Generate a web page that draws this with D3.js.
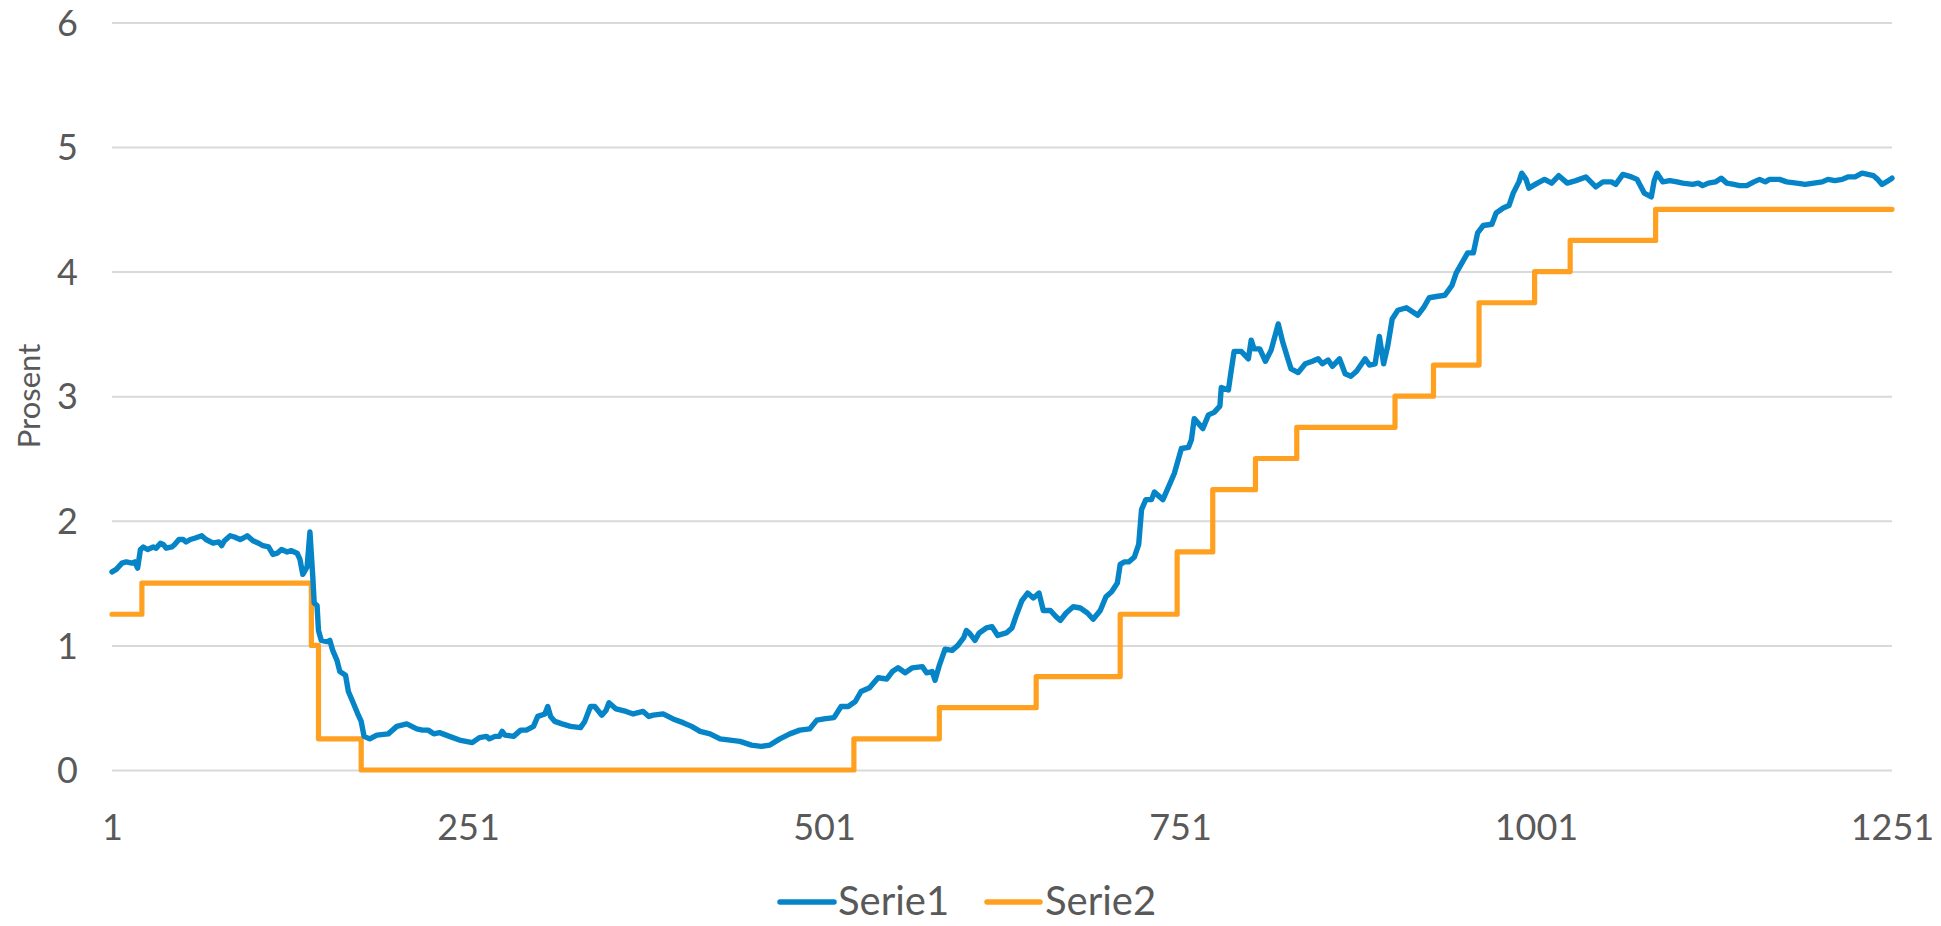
<!DOCTYPE html>
<html>
<head>
<meta charset="utf-8">
<script src="https://cdn.jsdelivr.net/npm/d3@7"></script>
<style>
  html, body { margin: 0; padding: 0; background: #ffffff; }
  svg { display: block; }
  text { font-family: Lato, "Open Sans", sans-serif; fill: #595959; }
</style>
</head>
<body>
<svg id="chart" width="1941" height="926"></svg>
<script>
// ---- data ----
const xTickLabels = [1, 251, 501, 751, 1001, 1251];
const yTickLabels = [0, 1, 2, 3, 4, 5, 6];
const seriesNames = ["Serie1", "Serie2"];
const seriesColors = ["#0585C8", "#FFA020"];
const yAxisTitle = "Prosent";

// Serie1: [observation number, value]
const serie1 = [
  [1,1.59],[4,1.61],[8,1.66],[11,1.67],[15,1.66],[17,1.67],[19,1.62],[21,1.77],[23,1.79],[26,1.77],
  [30,1.79],[32,1.78],[35,1.82],[37,1.81],[39,1.78],[43,1.79],[45,1.81],[48,1.85],[51,1.85],[53,1.83],
  [56,1.85],[59,1.86],[64,1.88],[67,1.85],[72,1.82],[76,1.83],[78,1.80],[80,1.84],[84,1.88],[87,1.87],
  [91,1.85],[93,1.86],[96,1.88],[100,1.84],[104,1.82],[107,1.80],[111,1.79],[114,1.73],[117,1.74],[120,1.77],
  [124,1.75],[127,1.76],[131,1.74],[133,1.69],[135,1.57],[136,1.59],[138,1.63],[140,1.91],[142,1.55],[143,1.34],
  [145,1.32],[146,1.12],[148,1.04],[152,1.03],[154,1.04],[156,0.96],[159,0.88],[161,0.79],[165,0.76],[167,0.63],
  [170,0.55],[174,0.44],[176,0.39],[178,0.27],[182,0.25],[187,0.28],[195,0.29],[201,0.35],[208,0.37],[215,0.33],
  [219,0.32],[223,0.32],[227,0.29],[231,0.30],[238,0.27],[245,0.24],[254,0.22],[259,0.26],[264,0.27],[266,0.25],
  [270,0.27],[273,0.27],[275,0.31],[277,0.28],[283,0.27],[288,0.32],[292,0.32],[297,0.35],[300,0.43],[305,0.45],
  [307,0.51],[309,0.43],[312,0.39],[317,0.37],[323,0.35],[330,0.34],[333,0.39],[337,0.51],[340,0.51],[345,0.44],
  [348,0.48],[350,0.54],[355,0.49],[362,0.47],[367,0.45],[374,0.47],[378,0.43],[381,0.44],[388,0.45],[395,0.41],
  [402,0.38],[408,0.35],[414,0.31],[421,0.29],[428,0.25],[435,0.24],[442,0.23],[450,0.20],[457,0.19],[463,0.20],
  [470,0.25],[477,0.29],[484,0.32],[491,0.33],[496,0.40],[501,0.41],[508,0.42],[513,0.51],[518,0.51],[523,0.55],
  [527,0.63],[533,0.66],[539,0.74],[545,0.73],[549,0.79],[553,0.82],[558,0.78],[563,0.82],[570,0.83],[573,0.78],
  [577,0.79],[579,0.72],[582,0.84],[586,0.97],[591,0.96],[595,1.00],[599,1.06],[601,1.12],[603,1.10],[607,1.04],
  [610,1.10],[615,1.14],[619,1.15],[623,1.08],[629,1.10],[633,1.14],[636,1.24],[640,1.36],[644,1.42],[648,1.38],
  [652,1.42],[655,1.28],[660,1.28],[664,1.23],[667,1.20],[671,1.26],[676,1.31],[681,1.30],[686,1.26],[690,1.21],
  [695,1.28],[699,1.39],[703,1.43],[707,1.50],[709,1.65],[712,1.67],[715,1.67],[719,1.71],[722,1.81],[724,2.09],
  [727,2.17],[731,2.17],[733,2.23],[739,2.17],[744,2.30],[747,2.38],[752,2.58],[757,2.59],[759,2.65],[761,2.82],
  [767,2.74],[771,2.85],[775,2.87],[779,2.92],[780,3.07],[785,3.05],[787,3.21],[789,3.36],[794,3.36],[799,3.30],
  [801,3.45],[803,3.38],[807,3.38],[811,3.28],[815,3.37],[820,3.58],[823,3.44],[827,3.29],[829,3.22],[834,3.19],
  [839,3.26],[844,3.28],[848,3.30],[851,3.26],[855,3.29],[858,3.24],[863,3.30],[867,3.18],[871,3.16],[875,3.20],
  [881,3.30],[884,3.25],[888,3.26],[891,3.48],[894,3.26],[897,3.41],[900,3.62],[904,3.69],[910,3.71],[914,3.68],
  [918,3.65],[922,3.71],[926,3.79],[931,3.80],[937,3.81],[942,3.89],[945,3.99],[949,4.07],[953,4.15],[957,4.15],
  [960,4.31],[964,4.37],[970,4.38],[973,4.47],[978,4.51],[982,4.53],[985,4.63],[989,4.72],[991,4.79],[994,4.74],
  [996,4.67],[1002,4.71],[1007,4.74],[1012,4.71],[1017,4.77],[1023,4.71],[1029,4.73],[1036,4.76],[1043,4.68],[1048,4.72],
  [1054,4.72],[1057,4.70],[1062,4.78],[1068,4.76],[1072,4.74],[1077,4.63],[1082,4.60],[1084,4.73],[1086,4.79],[1090,4.72],
  [1095,4.73],[1100,4.72],[1104,4.71],[1111,4.70],[1115,4.71],[1118,4.69],[1122,4.71],[1127,4.72],[1131,4.75],[1135,4.71],
  [1140,4.70],[1144,4.69],[1149,4.69],[1154,4.72],[1158,4.74],[1162,4.72],[1165,4.74],[1172,4.74],[1177,4.72],[1184,4.71],
  [1190,4.70],[1196,4.71],[1202,4.72],[1206,4.74],[1211,4.73],[1216,4.74],[1220,4.76],[1225,4.76],[1230,4.79],[1234,4.78],
  [1238,4.77],[1241,4.74],[1244,4.70],[1247,4.72],[1251,4.75]
];

// Serie2: step changes [observation number where new level starts, level]
const serie2 = [
  [1,1.25],[22,1.5],[141,1.0],[146,0.25],[176,0],[522,0.25],[582,0.5],[650,0.75],[709,1.25],[749,1.75],
  [774,2.25],[804,2.5],[833,2.75],[902,3.0],[929,3.25],[961,3.75],[1000,4.0],[1025,4.25],[1085,4.5],[1251,4.5]
];

// ---- layout ----
const svg = d3.select("#chart");
const plotLeft = 112, plotRight = 1892, plotTop = 22.4, plotBottom = 770;

const x = d3.scaleLinear().domain([1, 1251]).range([plotLeft, plotRight]);
const y = d3.scaleLinear().domain([0, 6]).range([plotBottom, plotTop]);

// gridlines + y labels
const yAxis = d3.axisLeft(y)
  .tickValues(yTickLabels)
  .tickSize(-(plotRight - plotLeft))
  .tickPadding(0)
  .tickFormat(d3.format("d"));
const gy = svg.append("g").attr("transform", `translate(${plotLeft},0)`).call(yAxis);
gy.select(".domain").remove();
gy.selectAll(".tick line").attr("stroke", "#D9D9D9").attr("stroke-width", 2);
gy.selectAll(".tick text")
  .attr("x", -34)
  .attr("dy", "0.35em")
  .style("font-size", "36px")
  .style("font-family", "Lato, 'Open Sans', sans-serif")
  .attr("fill", "#595959");

// x labels
const xAxis = d3.axisBottom(x)
  .tickValues(xTickLabels)
  .tickSize(0)
  .tickFormat(d3.format("d"));
const gx = svg.append("g").attr("transform", `translate(0,${plotBottom})`).call(xAxis);
gx.select(".domain").remove();
gx.selectAll(".tick text")
  .attr("y", 70)
  .attr("dy", 0)
  .style("font-size", "36px")
  .style("font-family", "Lato, 'Open Sans', sans-serif")
  .attr("fill", "#595959");

// axis title
svg.append("text")
  .attr("transform", `translate(40,396) rotate(-90)`)
  .attr("text-anchor", "middle")
  .style("font-size", "31px")
  .text(yAxisTitle);

// series lines
const line1 = d3.line().x(d => x(d[0])).y(d => y(d[1])).curve(d3.curveLinear);
const line2 = d3.line().x(d => x(d[0])).y(d => y(d[1])).curve(d3.curveStepAfter);

svg.append("path")
  .datum(serie2)
  .attr("d", line2)
  .attr("fill", "none")
  .attr("stroke", seriesColors[1])
  .attr("stroke-width", 5.2)
  .attr("stroke-linejoin", "round")
  .attr("stroke-linecap", "round");

svg.append("path")
  .datum(serie1)
  .attr("d", line1)
  .attr("fill", "none")
  .attr("stroke", seriesColors[0])
  .attr("stroke-width", 5.4)
  .attr("stroke-linejoin", "round")
  .attr("stroke-linecap", "round");

// legend
const legendItems = [
  {name: seriesNames[0], color: seriesColors[0], x0: 780, x1: 834, tx: 838},
  {name: seriesNames[1], color: seriesColors[1], x0: 987, x1: 1040, tx: 1045}
];
const lg = svg.append("g");
legendItems.forEach(it => {
  lg.append("line")
    .attr("x1", it.x0).attr("x2", it.x1)
    .attr("y1", 902).attr("y2", 902)
    .attr("stroke", it.color).attr("stroke-width", 5.5)
    .attr("stroke-linecap", "round");
  lg.append("text")
    .attr("x", it.tx).attr("y", 915)
    .style("font-size", "40px")
    .text(it.name);
});
</script>
</body>
</html>
